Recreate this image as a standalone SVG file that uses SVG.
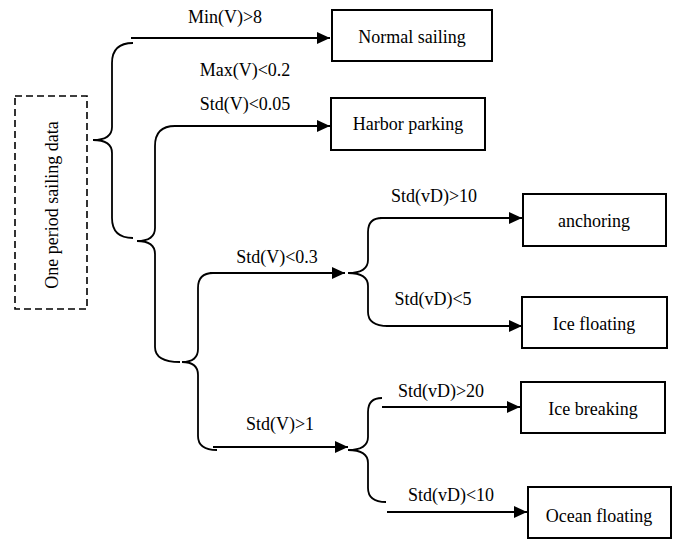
<svg xmlns="http://www.w3.org/2000/svg" width="678" height="539" viewBox="0 0 678 539">
<style>
text{font-family:"Liberation Serif","Times New Roman",serif;font-size:18px;fill:#000}
.box{fill:#fff;stroke:#000;stroke-width:2}
.dash{fill:#fff;stroke:#000;stroke-width:1.6;stroke-dasharray:7 4}
.br{fill:none;stroke:#000;stroke-width:1.8}
.ar{fill:none;stroke:#000;stroke-width:2.2;marker-end:url(#ah)}
.c{text-anchor:middle}
</style>
<defs>
<marker id="ah" markerWidth="14" markerHeight="12" refX="13" refY="6" orient="auto" markerUnits="userSpaceOnUse">
<path d="M0,0 L13,6 L0,12 Z" fill="#000"/>
</marker>
</defs>
<rect width="678" height="539" fill="#fff"/>
<g id="connectors">
<path class="br" d="M133,43 Q112,43 112,63 L112,127 Q112,140 93,140 Q112,140 112,153 L112,218 Q112,238 133,238"/>
<path class="ar" d="M131,38 L330,38"/>
<path class="br" d="M155,146 Q155,126 175,126 L318,126"/>
<path class="ar" d="M175,126 L330,126"/>
<path class="br" d="M155,146 L155,228 Q155,241 137,241 Q155,241 155,254 L155,347 Q155,362 180,362"/>
<path class="br" d="M213,273 Q198,273 198,288 L198,349 Q198,362 182,362 Q198,362 198,375 L198,436 Q198,450 217,450"/>
<path class="ar" d="M210,273 L345,273"/>
<path class="ar" d="M213,447 L348,447"/>
<path class="br" d="M382,218 Q368,218 368,232 L368,260 Q368,273 348,273 Q368,273 368,286 L368,312 Q368,326 388,326"/>
<path class="ar" d="M380,218 L522,218"/>
<path class="ar" d="M386,326 L522,326"/>
<path class="br" d="M382,398 Q368,398 368,412 L368,437 Q368,450 348,450 Q368,450 368,463 L368,488 Q368,502 386,502"/>
<path class="ar" d="M382,407 L520,407"/>
<path class="ar" d="M387,512 L527,512"/>
</g>
<g id="labels">
<text class="c" x="225" y="23">Min(V)&gt;8</text>
<text class="c" x="245" y="76">Max(V)&lt;0.2</text>
<text class="c" x="245" y="110">Std(V)&lt;0.05</text>
<text class="c" x="277" y="263">Std(V)&lt;0.3</text>
<text class="c" x="280" y="430">Std(V)&gt;1</text>
<text class="c" x="434" y="202">Std(vD)&gt;10</text>
<text class="c" x="433" y="305">Std(vD)&lt;5</text>
<text class="c" x="441" y="397">Std(vD)&gt;20</text>
<text class="c" x="451" y="501">Std(vD)&lt;10</text>
</g>
<g id="source">
<rect class="dash" x="15" y="96" width="72" height="213"/>
<text class="c" transform="translate(58,205) rotate(-90)">One period sailing data</text>
</g>
<g id="normal-sailing">
<rect class="box" x="332" y="10" width="160" height="51"/>
<text class="c" x="412" y="43">Normal sailing</text>
</g>
<g id="harbor-parking">
<rect class="box" x="331" y="98" width="154" height="52"/>
<text class="c" x="408" y="130">Harbor parking</text>
</g>
<g id="anchoring">
<rect class="box" x="523" y="194" width="143" height="52"/>
<text class="c" x="594" y="227">anchoring</text>
</g>
<g id="ice-floating">
<rect class="box" x="522" y="297" width="145" height="51"/>
<text class="c" x="594" y="330">Ice floating</text>
</g>
<g id="ice-breaking">
<rect class="box" x="521" y="382" width="144" height="51"/>
<text class="c" x="593" y="415">Ice breaking</text>
</g>
<g id="ocean-floating">
<rect class="box" x="528" y="487" width="143" height="51"/>
<text class="c" x="599" y="522">Ocean floating</text>
</g>
</svg>
